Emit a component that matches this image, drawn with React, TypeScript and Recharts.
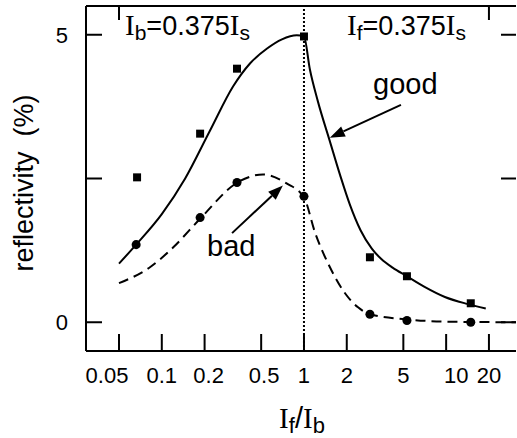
import React from "react";
import {
  ComposedChart,
  Line,
  Scatter,
  XAxis,
  YAxis,
  ReferenceLine,
} from "recharts";

const SANS = "Liberation Sans, Arial, Helvetica, sans-serif";
const SERIF = "Liberation Serif, Times New Roman, serif";

const xTicks = [0.05, 0.1, 0.2, 0.5, 1, 2, 5, 10, 20];
const yTicks = [0, 2.5, 5];
const topTicks = [0.05, 20];
const rightTicks = [0, 2.5, 5];

// measured points
const goodData = [
  { x: 0.067, y: 2.52 },
  { x: 0.186, y: 3.28 },
  { x: 0.338, y: 4.41 },
  { x: 1, y: 4.97 },
  { x: 2.91, y: 1.13 },
  { x: 5.3, y: 0.8 },
  { x: 14.9, y: 0.33 },
];
const badData = [
  { x: 0.066, y: 1.35 },
  { x: 0.186, y: 1.82 },
  { x: 0.338, y: 2.43 },
  { x: 1, y: 2.19 },
  { x: 2.91, y: 0.14 },
  { x: 5.3, y: 0.03 },
  { x: 14.9, y: 0.0 },
];

// theory curves
const goodFit = [
  { x: 0.05, y: 1.02 },
  { x: 0.066, y: 1.35 },
  { x: 0.1, y: 1.88 },
  { x: 0.146, y: 2.5 },
  { x: 0.218, y: 3.33 },
  { x: 0.317, y: 4.1 },
  { x: 0.417, y: 4.5 },
  { x: 0.55, y: 4.76 },
  { x: 0.7, y: 4.92 },
  { x: 0.89, y: 4.99 },
  { x: 1, y: 4.97 },
  { x: 1.1, y: 4.4 },
  { x: 1.25, y: 3.85 },
  { x: 1.52, y: 3.15 },
  { x: 1.8, y: 2.55 },
  { x: 2.1, y: 2.05 },
  { x: 2.5, y: 1.6 },
  { x: 3, y: 1.28 },
  { x: 3.5, y: 1.1 },
  { x: 4.2, y: 0.95 },
  { x: 5.3, y: 0.8 },
  { x: 7, y: 0.62 },
  { x: 9.8, y: 0.44 },
  { x: 14, y: 0.32 },
  { x: 19, y: 0.24 },
];
const badFit = [
  { x: 0.05, y: 0.68 },
  { x: 0.083, y: 0.96 },
  { x: 0.12, y: 1.3 },
  { x: 0.186, y: 1.8 },
  { x: 0.34, y: 2.43 },
  { x: 0.515, y: 2.57 },
  { x: 0.76, y: 2.41 },
  { x: 1, y: 2.17 },
  { x: 1.2, y: 1.55 },
  { x: 1.52, y: 0.96 },
  { x: 1.95, y: 0.5 },
  { x: 2.4, y: 0.26 },
  { x: 2.91, y: 0.14 },
  { x: 5.3, y: 0.05 },
  { x: 10, y: 0.01 },
  { x: 31, y: 0 },
];

const goodArrow = [
  { x: 4.81, y: 3.78 },
  { x: 1.52, y: 3.21 },
];
const badArrow = [
  { x: 0.312, y: 1.55 },
  { x: 0.711, y: 2.38 },
];

// small horizontal nudges of some tick labels, as in the original
const labelNudge: Record<string, number> = { "0.05": -12, "0.2": 4, "0.5": 3, "10": 10 };

const Arrow = (p: any) => {
  const { x1, y1, x2, y2 } = p;
  const a = Math.atan2(y2 - y1, x2 - x1);
  const L = 15;
  const W = 5.5;
  const bx = x2 - L * Math.cos(a);
  const by = y2 - L * Math.sin(a);
  const pts = `${x2},${y2} ${bx - W * Math.sin(a)},${by + W * Math.cos(a)} ${
    bx + W * Math.sin(a)
  },${by - W * Math.cos(a)}`;
  return (
    <g>
      <line x1={x1} y1={y1} x2={bx} y2={by} stroke="#000" strokeWidth={2} />
      <polygon points={pts} fill="#000" />
    </g>
  );
};

const XTick = (p: any) => {
  const { x, y, payload } = p;
  const label = String(payload.value);
  return (
    <text
      x={x + (labelNudge[label] ?? 0)}
      y={y}
      dy={17}
      textAnchor="middle"
      fontSize={22}
      fontFamily={SANS}
      fill="#000"
    >
      {label}
    </text>
  );
};

const tickStyle = { fill: "#000", fontSize: 22, fontFamily: SANS };
const axisStroke = { stroke: "#000", strokeWidth: 2 };
const xDomain = [0.0293, 31];

export default function App() {
  return (
    <div style={{ position: "absolute", left: 0, top: 0, background: "#fff" }}>
      <ComposedChart
        width={517}
        height={438}
        margin={{ top: 5, right: 0, left: 85, bottom: 86 }}
      >
        <XAxis
          xAxisId="b"
          dataKey="x"
          type="number"
          scale="log"
          domain={xDomain}
          allowDataOverflow
          ticks={xTicks}
          interval={0}
          height={1}
          tick={<XTick />}
          tickSize={-17}
          tickMargin={32}
          axisLine={axisStroke}
          tickLine={axisStroke}
        />
        <XAxis
          xAxisId="t"
          orientation="top"
          dataKey="x"
          type="number"
          scale="log"
          domain={xDomain}
          allowDataOverflow
          ticks={topTicks}
          interval={0}
          height={1}
          tickFormatter={() => ""}
          tickSize={-14}
          axisLine={axisStroke}
          tickLine={axisStroke}
        />
        <YAxis
          yAxisId="l"
          dataKey="y"
          type="number"
          domain={[-0.5, 5.5]}
          allowDataOverflow
          ticks={yTicks}
          interval={0}
          width={1}
          tickFormatter={(v: number) => (v === 2.5 ? "" : String(v))}
          tick={tickStyle}
          tickSize={-16}
          tickMargin={34}
          axisLine={axisStroke}
          tickLine={axisStroke}
        />
        <YAxis
          yAxisId="r"
          orientation="right"
          dataKey="y"
          type="number"
          domain={[-0.5, 5.5]}
          allowDataOverflow
          ticks={rightTicks}
          interval={0}
          width={1}
          tickFormatter={() => ""}
          tickSize={-15}
          axisLine={false}
          tickLine={axisStroke}
        />
        <ReferenceLine
          xAxisId="b"
          yAxisId="l"
          x={1}
          stroke="#000"
          strokeWidth={2}
          strokeDasharray="2 2"
        />
        <Line
          xAxisId="b"
          yAxisId="l"
          data={goodFit}
          dataKey="y"
          type="monotone"
          stroke="#000"
          strokeWidth={2}
          dot={false}
          isAnimationActive={false}
        />
        <Line
          xAxisId="b"
          yAxisId="l"
          data={badFit}
          dataKey="y"
          type="monotone"
          stroke="#000"
          strokeWidth={2}
          strokeDasharray="10 6"
          dot={false}
          isAnimationActive={false}
        />
        <Scatter
          xAxisId="b"
          yAxisId="l"
          data={goodData}
          dataKey="y"
          shape="square"
          fill="#000"
          isAnimationActive={false}
        />
        <Scatter
          xAxisId="b"
          yAxisId="l"
          data={badData}
          dataKey="y"
          shape="circle"
          fill="#000"
          isAnimationActive={false}
        />
        <ReferenceLine
          xAxisId="b"
          yAxisId="l"
          segment={goodArrow}
          shape={Arrow}
          ifOverflow="visible"
        />
        <ReferenceLine
          xAxisId="b"
          yAxisId="l"
          segment={badArrow}
          shape={Arrow}
          ifOverflow="visible"
        />
        <text x={125} y={35} fontSize={27} fontFamily={SANS} fill="#000">
          <tspan fontFamily={SERIF} fontSize={29}>I</tspan>
          <tspan fontSize={21} dy={5}>b</tspan>
          <tspan dy={-5}>=0.375</tspan>
          <tspan fontFamily={SERIF} fontSize={29}>I</tspan>
          <tspan fontSize={21} dy={5}>s</tspan>
        </text>
        <text x={347} y={35} fontSize={27} fontFamily={SANS} fill="#000">
          <tspan fontFamily={SERIF} fontSize={29}>I</tspan>
          <tspan fontSize={21} dy={5}>f</tspan>
          <tspan dy={-5}>=0.375</tspan>
          <tspan fontFamily={SERIF} fontSize={29}>I</tspan>
          <tspan fontSize={21} dy={5}>s</tspan>
        </text>
        <text x={373} y={94} fontSize={29} fontFamily={SANS} fill="#000">
          good
        </text>
        <text x={207} y={256} fontSize={29} fontFamily={SANS} fill="#000">
          bad
        </text>
        <text
          transform="rotate(-90)"
          x={-183}
          y={33}
          textAnchor="middle"
          fontSize={27}
          fontFamily={SANS}
          fill="#000"
        >
          {"reflectivity\u00A0 (%)"}
        </text>
        <text x={302} y={428} textAnchor="middle" fontSize={29} fontFamily={SANS} fill="#000">
          <tspan fontFamily={SERIF}>I</tspan>
          <tspan fontSize={22} dy={5}>f</tspan>
          <tspan dy={-5}>/</tspan>
          <tspan fontFamily={SERIF}>I</tspan>
          <tspan fontSize={22} dy={5}>b</tspan>
        </text>
      </ComposedChart>
    </div>
  );
}
